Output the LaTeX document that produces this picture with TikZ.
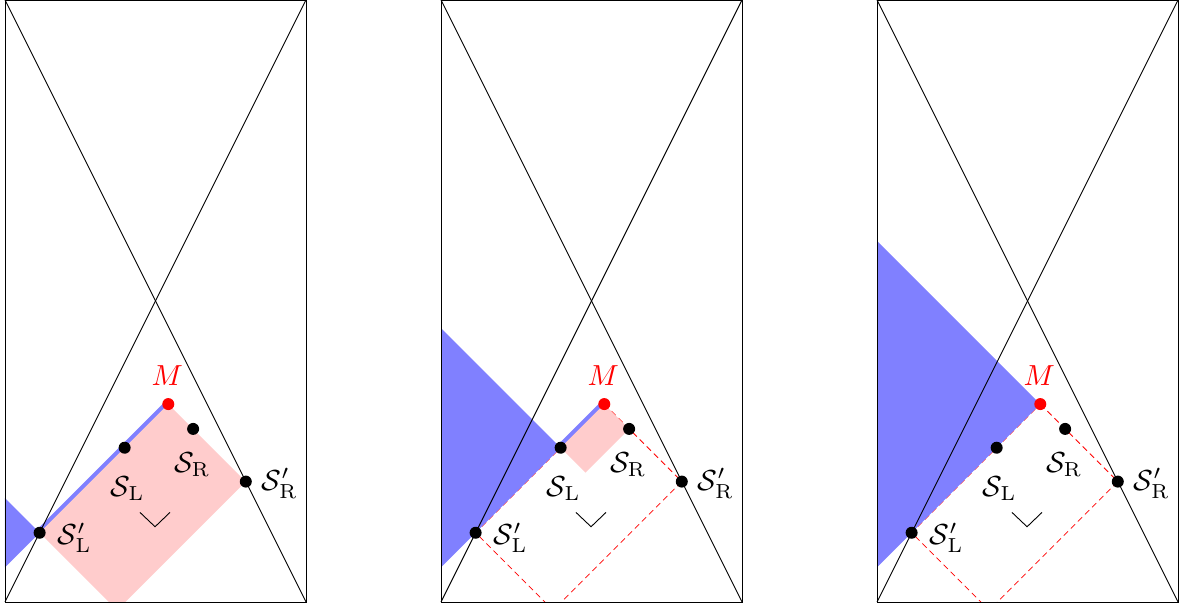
\documentclass[tikz,border=0pt]{standalone}
\usetikzlibrary{calc}
\newcommand{\defpts}[1]{%
  \coordinate (M#1) at (1.085,1.315);
  \coordinate (SLp#1) at (0.23,0.46);
  \coordinate (SRp#1) at (1.6,0.8);
  \coordinate (B#1) at (0.745,-0.055);
  \coordinate (SL#1) at (0.795,1.025);
  \coordinate (SR#1) at (1.25,1.15);
  \coordinate (C#1) at (0.96,0.86);
  \coordinate (BL#1) at (0,0);
  \coordinate (BR#1) at (2,0);
  \coordinate (TL#1) at (0,4);
  \coordinate (TR#1) at (2,4);
  \coordinate (W#1) at (0.997,0.5);
  \coordinate (Wa#1) at (0.897,0.595);
  \coordinate (Wb#1) at (1.096,0.595);
}
\newcommand{\panelcommon}[1]{%
  \draw[frame] (BL#1) rectangle (TR#1);
  \draw[frame] (BL#1) -- (TR#1);
  \draw[frame] (BR#1) -- (TL#1);
  \draw[wedgeline] (Wa#1) -- (W#1) -- (Wb#1);
  \node[mdot] (dM#1) at (M#1) {};
  \node[dot] (dSL#1) at (SL#1) {};
  \node[dot] (dSR#1) at (SR#1) {};
  \node[dot] (dSLp#1) at (SLp#1) {};
  \node[dot] (dSRp#1) at (SRp#1) {};
  \node[lab,text=red] (lM#1) at ($(M#1)+(-1pt,28pt)$) {$M$};
  \node[lab] (lSL#1) at ($(SL#1)+(3pt,-41pt)$) {$\mathcal{S}_{\mathrm{L}}$};
  \node[lab] (lSR#1) at ($(SR#1)+(-1pt,-36pt)$) {$\mathcal{S}_{\mathrm{R}}$};
  \node[lab] (lSLp#1) at ($(SLp#1)+(35pt,-5pt)$) {$\mathcal{S}'_{\mathrm{L}}$};
  \node[lab] (lSRp#1) at ($(SRp#1)+(34pt,-2pt)$) {$\mathcal{S}'_{\mathrm{R}}$};
}
\begin{document}
\begin{tikzpicture}[x=150.5pt,y=150.5pt,
  frame/.style={line width=0.9pt},
  wedgeline/.style={line width=0.9pt},
  dot/.style={circle,fill=black,inner sep=0pt,minimum size=12pt},
  mdot/.style={circle,fill=red,inner sep=0pt,minimum size=12pt},
  lab/.style={scale=2.9, inner sep=0pt},
  pinkfill/.style={fill=red!20},
  bluefill/.style={fill=blue!50},
  blueline/.style={draw=blue!50,line width=8pt},
  reddash/.style={draw=red,line width=0.8pt,dash pattern=on 6pt off 4pt}]
\useasboundingbox (-5pt,-7pt) rectangle (1174pt,602pt);

% Panel 1
\begin{scope}
  \defpts{1}
  \begin{scope}
    \clip (BL1) rectangle (TR1);
    \draw[blueline] (SLp1) -- (M1);
    \fill[pinkfill] (M1) -- (SRp1) -- (B1) -- (SLp1) -- cycle;
    \fill[bluefill] (0,0.69) -- (SLp1) -- (0,0.23) -- cycle;
  \end{scope}
  \panelcommon{1}
\end{scope}

% Panel 2
\begin{scope}[xshift=436pt]
  \defpts{2}
  \begin{scope}
    \clip (BL2) rectangle (TR2);
    \draw[reddash] (M2) -- (SRp2) -- (B2) -- (SLp2) -- cycle;
    \draw[blueline] (SL2) -- (M2);
    \fill[pinkfill] (M2) -- (SR2) -- (C2) -- (SL2) -- cycle;
    \fill[bluefill] (0,1.82) -- (SL2) -- (SLp2) -- (0,0.23) -- cycle;
  \end{scope}
  \panelcommon{2}
\end{scope}

% Panel 3
\begin{scope}[xshift=872pt]
  \defpts{3}
  \begin{scope}
    \clip (BL3) rectangle (TR3);
    \draw[reddash] (M3) -- (SRp3) -- (B3) -- (SLp3) -- cycle;
    \fill[bluefill] (0,2.4) -- (M3) -- (SLp3) -- (0,0.23) -- cycle;
  \end{scope}
  \panelcommon{3}
\end{scope}
\end{tikzpicture}
\end{document}
